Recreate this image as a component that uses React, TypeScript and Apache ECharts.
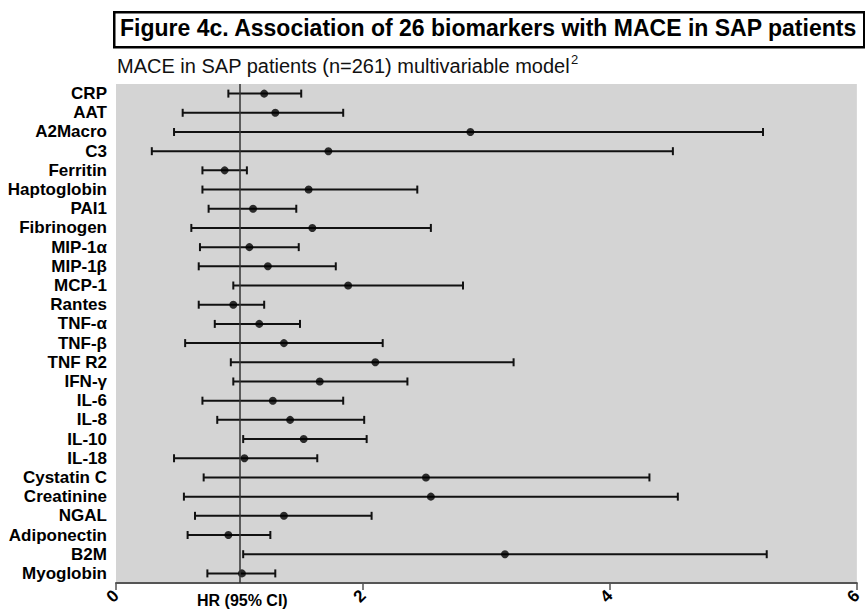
import React, { useEffect, useRef } from "react";
import * as echarts from "echarts";

const categories = [
  "CRP", "AAT", "A2Macro", "C3", "Ferritin", "Haptoglobin", "PAI1", "Fibrinogen",
  "MIP-1α", "MIP-1β", "MCP-1", "Rantes", "TNF-α", "TNF-β", "TNF R2", "IFN-γ",
  "IL-6", "IL-8", "IL-10", "IL-18", "Cystatin C", "Creatinine", "NGAL",
  "Adiponectin", "B2M", "Myoglobin",
];
const hr = [
  1.2, 1.29, 2.87, 1.72, 0.88, 1.56, 1.11, 1.59, 1.08, 1.23, 1.88, 0.95, 1.16,
  1.36, 2.1, 1.65, 1.27, 1.41, 1.52, 1.04, 2.51, 2.55, 1.36, 0.91, 3.15, 1.02,
];
const ciLow = [
  0.91, 0.54, 0.47, 0.29, 0.7, 0.7, 0.75, 0.61, 0.68, 0.67, 0.95, 0.67, 0.8,
  0.56, 0.93, 0.95, 0.7, 0.82, 1.03, 0.47, 0.71, 0.55, 0.64, 0.58, 1.03, 0.74,
];
const ciHigh = [
  1.5, 1.84, 5.24, 4.51, 1.06, 2.44, 1.46, 2.55, 1.48, 1.78, 2.81, 1.2, 1.49,
  2.16, 3.22, 2.36, 1.84, 2.01, 2.03, 1.63, 4.32, 4.55, 2.07, 1.25, 5.27, 1.29,
];
const xTicks = [0, 2, 4, 6];

export default function App() {
  const ref = useRef<HTMLDivElement>(null);
  useEffect(() => {
    if (!ref.current) return;
    const chart = echarts.init(ref.current, null, { renderer: "svg" });
    const ciData = categories.map((_, i) => [i, ciLow[i], ciHigh[i]]);
    const ptData = categories.map((_, i) => [hr[i], i]);
    chart.setOption({
      animation: false,
      backgroundColor: "#ffffff",
      textStyle: { fontFamily: "Liberation Sans" },
      grid: {
        left: 116,
        right: 1,
        top: 84,
        bottom: 31,
        show: true,
        backgroundColor: "#d4d4d4",
        borderWidth: 0,
      },
      xAxis: {
        type: "value",
        min: xTicks[0],
        max: xTicks[xTicks.length - 1],
        interval: 2,
        splitLine: { show: false },
        axisLine: { show: true, onZero: false, lineStyle: { color: "#555", width: 2 } },
        axisTick: { show: true, length: 7, lineStyle: { color: "#555", width: 1.5 } },
        axisLabel: {
          rotate: 45,
          fontWeight: "bold",
          fontSize: 17,
          color: "#000",
          margin: 10,
        },
      },
      yAxis: {
        type: "category",
        data: categories,
        inverse: true,
        axisLine: { show: false },
        axisTick: { show: false },
        splitLine: { show: false },
        axisLabel: {
          interval: 0,
          fontWeight: "bold",
          fontSize: 17,
          color: "#000",
          margin: 9,
        },
      },
      series: [
        {
          type: "custom",
          encode: { x: [1, 2], y: 0 },
          data: ciData,
          z: 3,
          renderItem: (params: any, api: any) => {
            const idx = api.value(0);
            const lo = api.coord([api.value(1), idx]);
            const hi = api.coord([api.value(2), idx]);
            const h = 4;
            const st = { stroke: "#111", lineWidth: 2 };
            return {
              type: "group",
              children: [
                { type: "line", shape: { x1: lo[0], y1: lo[1], x2: hi[0], y2: hi[1] }, style: st },
                { type: "line", shape: { x1: lo[0], y1: lo[1] - h, x2: lo[0], y2: lo[1] + h }, style: st },
                { type: "line", shape: { x1: hi[0], y1: hi[1] - h, x2: hi[0], y2: hi[1] + h }, style: st },
              ],
            };
          },
        },
        {
          type: "scatter",
          data: ptData,
          symbol: "circle",
          symbolSize: 8,
          itemStyle: { color: "#000" },
          z: 4,
          markLine: {
            silent: true,
            symbol: "none",
            label: { show: false },
            lineStyle: { color: "#333", width: 1.5, type: "solid" },
            data: [{ xAxis: 1 }],
          },
        },
      ],
      graphic: [
        {
          type: "rect",
          left: 113,
          top: 11,
          shape: { width: 750, height: 35 },
          style: { fill: "#fff", stroke: "#000", lineWidth: 2.5 },
        },
        {
          type: "text",
          left: 120,
          top: 16,
          style: {
            text: "Figure 4c. Association of 26 biomarkers with MACE in SAP patients",
            font: "bold 23px 'Liberation Sans'",
            fill: "#000",
          },
        },
        {
          type: "text",
          left: 117,
          top: 53,
          style: {
            text: "{a|MACE in SAP patients (n=261) multivariable model}{s|2}",
            rich: {
              a: { font: "20px 'Liberation Sans'", fill: "#111", verticalAlign: "bottom" },
              s: { font: "13px 'Liberation Sans'", fill: "#111", verticalAlign: "top", padding: [0, 0, 10, 1] },
            },
          },
        },
        {
          type: "text",
          left: 197,
          top: 592,
          style: { text: "HR (95% CI)", font: "bold 16px 'Liberation Sans'", fill: "#000" },
        },
      ],
    });
    return () => chart.dispose();
  }, []);
  return <div ref={ref} style={{ width: 865, height: 614, position: "absolute", left: 0, top: 0 }} />;
}
